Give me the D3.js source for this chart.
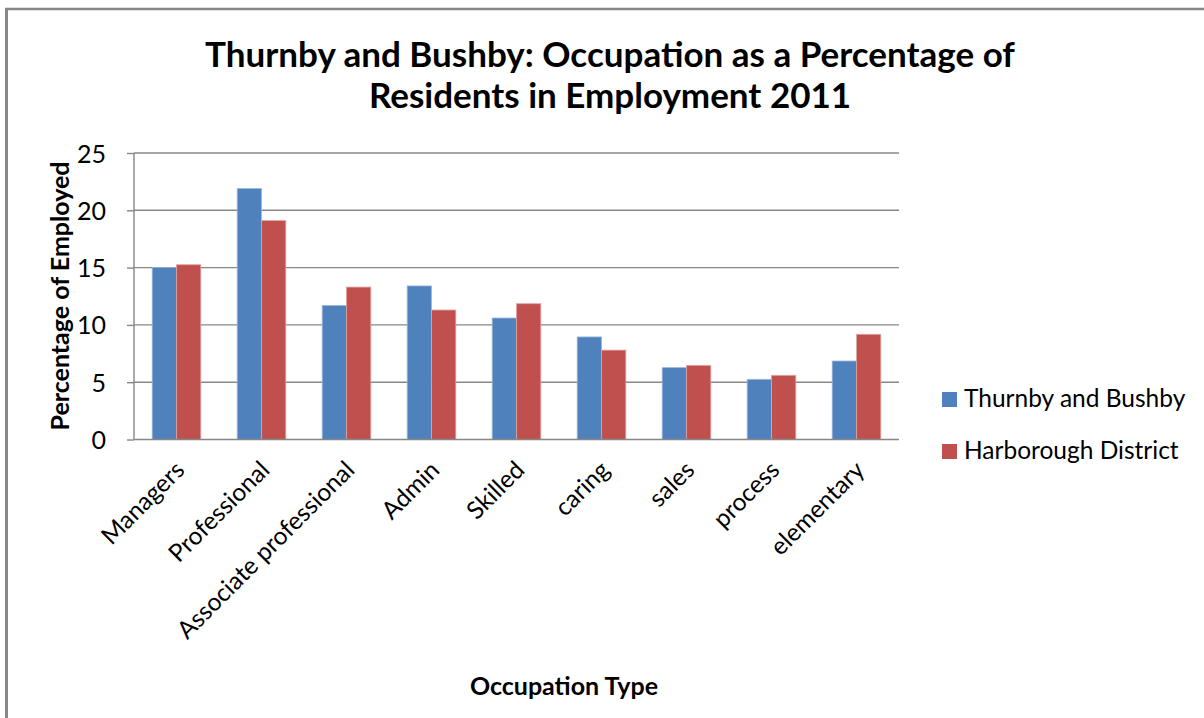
<!DOCTYPE html>
<html>
<head>
<meta charset="utf-8">
<script src="https://cdn.jsdelivr.net/npm/d3@7/dist/d3.min.js"></script>
<style>
  html, body { margin: 0; padding: 0; background: #fff; }
  svg text { font-family: Lato, "Open Sans", sans-serif; fill: #000; }
</style>
</head>
<body>
<svg id="chart" width="1204" height="718"></svg>
<script>
// Occupation shares, percent of residents in employment (2011 Census)
const categories = ["Managers", "Professional", "Associate professional", "Admin",
  "Skilled", "caring", "sales", "process", "elementary"];
const seriesNames = ["Thurnby and Bushby", "Harborough District"];
const thurnbyBushby = [15.0, 21.9, 11.7, 13.4, 10.6, 8.95, 6.27, 5.25, 6.85];
const harborough   = [15.25, 19.1, 13.3, 11.3, 11.85, 7.8, 6.47, 5.6, 9.18];
const yTicks = [0, 5, 10, 15, 20, 25];
const titleLines = ["Thurnby and Bushby: Occupation as a Percentage of",
  "Residents in Employment 2011"];

const colors = ["#4F81BD", "#C0504D"];
const edgeColors = ["#9bb7dc", "#e3a3a1"];

const svg = d3.select("#chart");

// outer chart frame (top and left edges)
svg.append("line").attr("x1", 5).attr("x2", 1204).attr("y1", 9).attr("y2", 9)
  .attr("stroke", "#878787").attr("stroke-width", 2.6);
svg.append("line").attr("x1", 6.5).attr("x2", 6.5).attr("y1", 8).attr("y2", 718)
  .attr("stroke", "#878787").attr("stroke-width", 3);

const plot = { left: 134, right: 899, top: 153, bottom: 439.5 };

const x0 = d3.scaleBand().domain(categories)
  .range([plot.left, plot.right]).paddingInner(0.428).paddingOuter(0.214);
const x1 = d3.scaleBand().domain(seriesNames).range([0, x0.bandwidth()]);
const y = d3.scaleLinear().domain([0, 25]).range([plot.bottom, plot.top]);

// gridlines
svg.append("g").selectAll("line").data(yTicks.filter(d => d > 0)).join("line")
  .attr("x1", plot.left).attr("x2", plot.right)
  .attr("y1", d => y(d)).attr("y2", d => y(d))
  .attr("stroke", "#878787").attr("stroke-width", 1.4);

// bars
const rows = categories.map((c, i) => ({ cat: c, vals: [thurnbyBushby[i], harborough[i]] }));
const groups = svg.append("g").selectAll("g").data(rows).join("g")
  .attr("transform", d => `translate(${x0(d.cat)},0)`);
groups.selectAll("rect")
  .data(d => d.vals.map((v, k) => ({ name: seriesNames[k], v, k })))
  .join("rect")
  .attr("x", d => x1(d.name))
  .attr("width", x1.bandwidth())
  .attr("y", d => y(d.v))
  .attr("height", d => y(0) - y(d.v))
  .attr("fill", d => colors[d.k])
  .attr("stroke", d => edgeColors[d.k])
  .attr("stroke-width", 0.8);

// y axis
const yAxis = d3.axisLeft(y).tickValues(yTicks).tickSize(7).tickPadding(8);
const gy = svg.append("g").attr("transform", `translate(${plot.left},0)`).call(yAxis);
gy.select(".domain").attr("stroke", "#878787").attr("stroke-width", 1.4)
  .attr("d", `M0,${plot.top}V${plot.bottom}`);
gy.selectAll(".tick line").attr("stroke", "#878787").attr("stroke-width", 1.4);
gy.selectAll(".tick text").style("font-size", "25px").style("font-family", "Lato, sans-serif")
  .attr("fill", "#000").attr("dy", "0.36em").attr("x", -28);

// x axis baseline
svg.append("line").attr("x1", plot.left).attr("x2", plot.right)
  .attr("y1", y(0)).attr("y2", y(0))
  .attr("stroke", "#878787").attr("stroke-width", 1.4);

// category labels, rotated
svg.append("g").selectAll("text").data(categories).join("text")
  .attr("transform", d => `translate(${x0(d) + x0.bandwidth() / 2 - 3},459) rotate(-45)`)
  .attr("text-anchor", "end")
  .attr("dy", "0.72em")
  .style("font-size", "24.5px")
  .text(d => d);

// title
svg.append("g").selectAll("text").data(titleLines).join("text")
  .attr("x", 610).attr("y", (d, i) => 67 + i * 41)
  .attr("text-anchor", "middle")
  .style("font-size", "35px").style("font-weight", "bold")
  .text(d => d);

// axis titles
svg.append("text")
  .attr("transform", "translate(69,296) rotate(-90)")
  .attr("text-anchor", "middle")
  .style("font-size", "25px").style("font-weight", "bold")
  .text("Percentage of Employed");
svg.append("text")
  .attr("x", 564).attr("y", 695)
  .attr("text-anchor", "middle")
  .style("font-size", "25px").style("font-weight", "bold")
  .text("Occupation Type");

// legend
const legend = svg.append("g").attr("transform", "translate(942,392)");
const items = legend.selectAll("g").data(seriesNames).join("g")
  .attr("transform", (d, i) => `translate(0,${i * 52})`);
items.append("rect").attr("width", 15).attr("height", 15).attr("y", 0)
  .attr("fill", (d, i) => colors[i]);
items.append("text").attr("x", 22).attr("y", 15)
  .style("font-size", "24.5px").text(d => d);
</script>
</body>
</html>
